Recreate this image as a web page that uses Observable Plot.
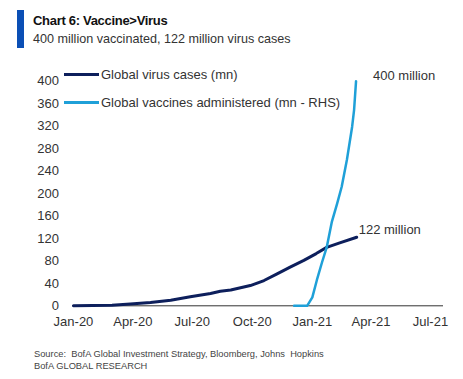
<!DOCTYPE html>
<html>
<head>
<meta charset="utf-8">
<script src="https://cdn.jsdelivr.net/npm/d3@7"></script>
<script src="https://cdn.jsdelivr.net/npm/@observablehq/plot@0.6"></script>
<style>
  html, body { margin: 0; padding: 0; background: #fff; }
  body { width: 463px; height: 379px; position: relative; overflow: hidden; font-family: "Liberation Sans", Arial, sans-serif; color: #333; }
  .bar { position: absolute; left: 17px; top: 10px; width: 7px; height: 38px; background: #0b4fb5; }
  .title { position: absolute; left: 33px; top: 13px; font-size: 13px; font-weight: bold; color: #111; letter-spacing: -0.3px; white-space: nowrap; }
  .subtitle { position: absolute; left: 33px; top: 32px; font-size: 12.6px; color: #333; white-space: nowrap; }
  #chart { position: absolute; left: 0; top: 60px; }
  .leg { position: absolute; left: 64px; font-size: 13px; color: #333; white-space: nowrap; display: flex; align-items: center; }
  .leg span.sw { display: inline-block; width: 35px; height: 3px; margin-right: 2px; }
  .src { position: absolute; left: 34px; font-size: 9.3px; color: #444; white-space: nowrap; }
</style>
</head>
<body>
<div class="bar"></div>
<div class="title">Chart 6: Vaccine&gt;Virus</div>
<div class="subtitle">400 million vaccinated, 122 million virus cases</div>
<div id="chart"></div>
<div class="leg" style="top:67px"><span class="sw" style="background:#0d1f5c"></span>Global virus cases (mn)</div>
<div class="leg" style="top:95px"><span class="sw" style="background:#1fa0d8"></span>Global vaccines administered (mn - RHS)</div>
<div class="src" style="top:349px">Source:&nbsp; BofA Global Investment Strategy, Bloomberg, Johns&nbsp; Hopkins</div>
<div class="src" style="top:361px">BofA GLOBAL RESEARCH</div>
<script>
// Global virus cases (mn)
const virusDates = ["2020-01-01","2020-02-29","2020-03-28","2020-04-28","2020-05-29","2020-06-28","2020-07-29","2020-08-13","2020-08-29","2020-09-28","2020-10-19","2020-11-08","2020-11-28","2020-12-19","2021-01-07","2021-01-23","2021-02-12","2021-03-10"];
const virusValues = [0, 1, 3, 6, 10, 16, 22, 26, 28, 36, 45, 57, 69, 81, 93, 104, 112, 122];
// Global vaccines administered (mn)
const vaccDates = ["2020-12-04","2020-12-24","2021-01-01","2021-01-08","2021-01-16","2021-01-23","2021-01-31","2021-02-08","2021-02-15","2021-02-23","2021-03-03","2021-03-06","2021-03-09"];
const vaccValues = [0, 0, 15, 46, 78, 104, 150, 182, 212, 260, 319, 349, 400];
// Axis ticks
const yTicks = [0, 40, 80, 120, 160, 200, 240, 280, 320, 360, 400];
const xTickDates = ["2020-01-01","2020-04-01","2020-07-01","2020-10-01","2021-01-01","2021-04-01","2021-07-01"];

const parse = d3.utcParse("%Y-%m-%d");
const virus = virusDates.map((d, i) => ({date: parse(d), value: virusValues[i]}));
const vacc = vaccDates.map((d, i) => ({date: parse(d), value: vaccValues[i]}));
const xTicks = xTickDates.map(parse);

const chart = Plot.plot({
  width: 463,
  height: 285,
  marginLeft: 72,
  marginRight: 20,
  marginTop: 20.7,
  marginBottom: 39.7,
  style: {fontFamily: "'Liberation Sans', Arial, sans-serif", fontSize: "13px", color: "#333", background: "transparent"},
  x: {type: "utc", domain: [new Date(Date.UTC(2019, 11, 30, 12)), new Date(Date.UTC(2021, 6, 21))]},
  y: {domain: [0, 400]},
  marks: [
    Plot.axisY({ticks: yTicks, tickSize: 0, tickPadding: 13.5, label: null, fontSize: 13}),
    Plot.axisX({ticks: xTicks, tickSize: 0, tickPadding: 11, tickFormat: d3.utcFormat("%b-%y"), label: null, fontSize: 13}),
    Plot.ruleY([0], {stroke: "#333", strokeWidth: 1}),
    Plot.line(virus, {x: "date", y: "value", stroke: "#0d1f5c", strokeWidth: 3}),
    Plot.line(vacc, {x: "date", y: "value", stroke: "#1fa0d8", strokeWidth: 2.5}),
    Plot.text([virus[virus.length - 1]], {x: "date", y: "value", text: () => "122 million", textAnchor: "start", dx: 2, dy: -7, fontSize: 13, fill: "#333"}),
    Plot.text([vacc[vacc.length - 1]], {x: "date", y: "value", text: () => "400 million", textAnchor: "start", dx: 17, dy: -5, fontSize: 13, fill: "#333"})
  ]
});
document.getElementById("chart").appendChild(chart);
</script>
</body>
</html>
